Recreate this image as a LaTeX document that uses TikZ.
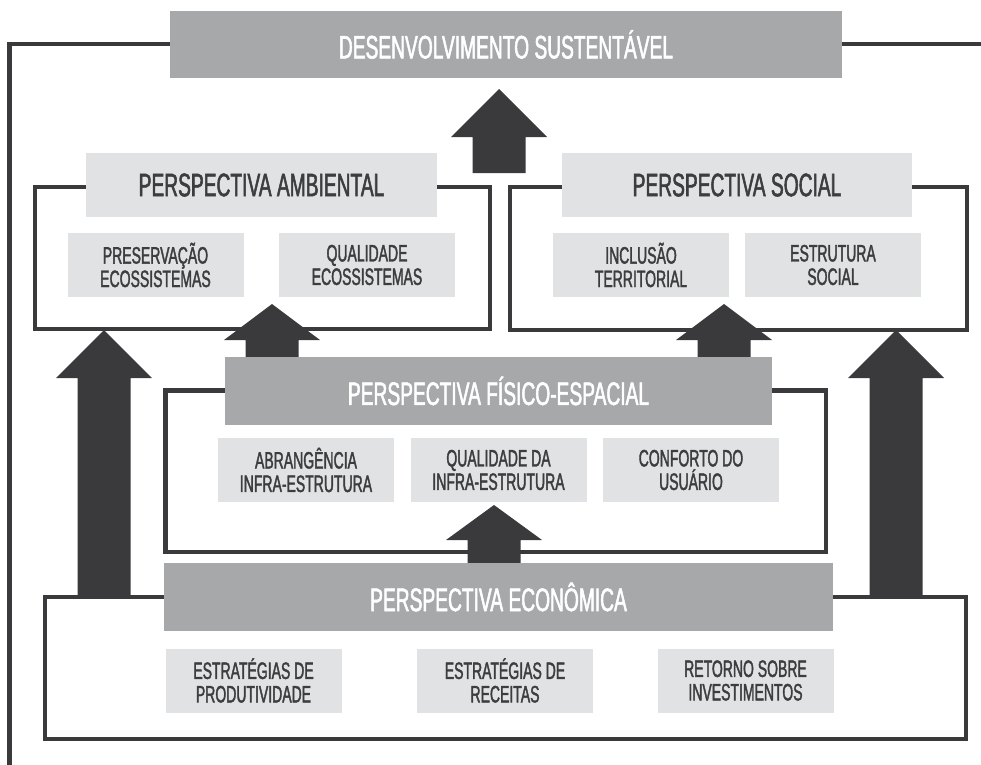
\documentclass[tikz,border=0pt]{standalone}
\usepackage{fontspec}
\newfontfamily\cond[FakeStretch=0.59,FakeBold=1.6]{Liberation Sans}
\definecolor{darkline}{HTML}{3A3A3C}
\definecolor{midbox}{HTML}{A7A8AA}
\definecolor{lightbox}{HTML}{E1E2E3}
\definecolor{boxtext}{HTML}{3D3D3F}
\tikzset{
  frameline/.style={draw=darkline, line width=3.7pt},
  arrowfill/.style={fill=darkline},
  titledark/.style={fill=midbox, text=white, inner sep=0pt, align=center,
    font=\cond\fontsize{24.4}{26}\selectfont},
  titlelight/.style={fill=lightbox, text=boxtext, inner sep=0pt, align=center,
    font=\cond\fontsize{24.4}{26}\selectfont},
  subbox/.style={fill=lightbox, text=boxtext, inner sep=0pt, align=center,
    minimum width=132pt, minimum height=48pt,
    font=\cond\fontsize{17.8}{17.6}\selectfont},
  pics/barrow/.style args={#1/#2/#3/#4}{code={%
    \fill[arrowfill] (0,0) -- (#1,#2) -- (#3,#2) -- (#3,#4) -- (-#3,#4) -- (-#3,#2) -- (-#1,#2) -- cycle;}},
}
\begin{document}
\begin{tikzpicture}[x=0.75pt,y=-0.75pt]
\useasboundingbox (0,0) rectangle (981,764);
\clip (0,0) rectangle (981,764);
\fill[white] (0,0) rectangle (981,764);

% frames
\draw[frameline] (9.5,800) -- (9.5,44) -- (1000,44);
\draw[frameline] (35,187) rectangle (490,329);
\draw[frameline] (510,187) rectangle (967,330);
\draw[frameline] (165.5,390.5) rectangle (826,552);
\draw[frameline] (45,597) rectangle (966,739);

% tips of block arrows
\coordinate (tipTop) at (499,89);
\coordinate (tipAmb) at (272,304);
\coordinate (tipSoc) at (724,304);
\coordinate (tipFis) at (494,505);
\coordinate (tipL) at (104,330);
\coordinate (tipR) at (896,330);

\pic at (tipTop) {barrow={48/48/26.5/84}};
\pic at (tipAmb) {barrow={48/36/26.5/56}};
\pic at (tipSoc) {barrow={48/36/26.5/56}};
\pic at (tipFis) {barrow={48/35/26.5/62}};
\pic at (tipL) {barrow={48/48/26.5/267}};
\pic at (tipR) {barrow={48/48/26.5/267}};

% boxes
\node[titledark, minimum width=504pt, minimum height=50.25pt] (ds) at (506,44.5) {DESENVOLVIMENTO SUSTENTÁVEL};

\node[titlelight, minimum width=263.25pt, minimum height=48pt] (amb) at (261.5,185) {PERSPECTIVA AMBIENTAL};
\node[subbox] (amb1) at (155.5,265) {PRESERVAÇÃO\\ECOSSISTEMAS};
\node[subbox] (amb2) at (367,265) {QUALIDADE\\ECOSSISTEMAS};

\node[titlelight, minimum width=262.5pt, minimum height=48pt] (soc) at (737,185) {PERSPECTIVA SOCIAL};
\node[subbox] (soc1) at (641,265) {INCLUSÃO\\TERRITORIAL};
\node[subbox] (soc2) at (833,265) {ESTRUTURA\\SOCIAL};

\node[titledark, minimum width=410.25pt, minimum height=51pt] (fis) at (498.5,391) {PERSPECTIVA FÍSICO-ESPACIAL};
\node[subbox] (fis1) at (306,470) {ABRANGÊNCIA\\INFRA-ESTRUTURA};
\node[subbox] (fis2) at (498.5,470) {QUALIDADE DA\\INFRA-ESTRUTURA};
\node[subbox] (fis3) at (691,470) {CONFORTO DO\\USUÁRIO};

\node[titledark, minimum width=501.75pt, minimum height=51pt] (eco) at (498.5,597) {PERSPECTIVA ECONÔMICA};
\node[subbox] (eco1) at (253.5,680.5) {ESTRATÉGIAS DE\\PRODUTIVIDADE};
\node[subbox] (eco2) at (505,680.5) {ESTRATÉGIAS DE\\RECEITAS};
\node[subbox] (eco3) at (745.5,680.5) {RETORNO SOBRE\\INVESTIMENTOS};
\end{tikzpicture}
\end{document}
